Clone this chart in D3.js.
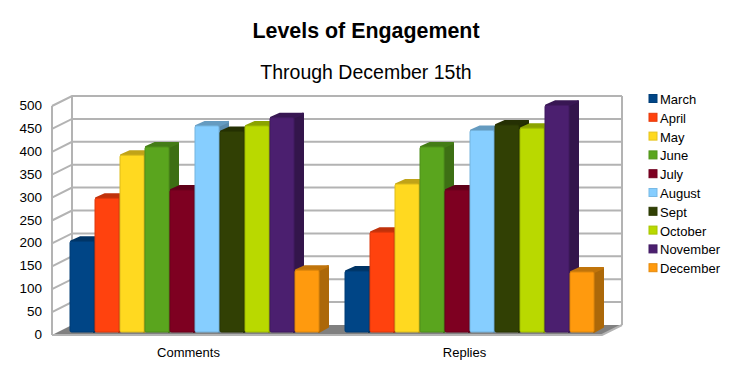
<!DOCTYPE html>
<html lang="en">
<head>
<meta charset="utf-8">
<title>Levels of Engagement</title>
<script src="https://cdn.jsdelivr.net/npm/d3@7"></script>
<style>
  html, body { margin: 0; padding: 0; background: #fff; }
  svg { display: block; }
  text { font-family: "Liberation Sans", Arial, sans-serif; fill: #000; }
</style>
</head>
<body>
<div id="chart-area"></div>
<script>
var categories = ["Comments", "Replies"];
var months = ["March", "April", "May", "June", "July", "August", "Sept", "October", "November", "December"];
var comments = [198, 292, 386, 404, 310, 450, 438, 450, 468, 135];
var replies = [133, 218, 323, 404, 310, 440, 452, 445, 495, 131];
var colors = ["#004586", "#ff420e", "#ffd920", "#5aa51e", "#7e0021", "#86ceff", "#314004", "#b9d900", "#4b1f6f", "#ff9a0e"];
var yTicks = [0, 50, 100, 150, 200, 250, 300, 350, 400, 450, 500];

var svg = d3.select("#chart-area").append("svg")
  .attr("width", 731)
  .attr("height", 367);

// front plane of the box, and how far the back wall is pushed away
var x0 = d3.scaleBand().domain(categories).range([52, 602]);
var x1 = d3.scaleBand().domain(months).range([0, 250]);
var y = d3.scaleLinear().domain([0, 500]).range([335, 106]);
var depth = { x: 20, y: -10 };
var barDepth = { x: 10, y: -5 };
var barOffset = { x: 5 + 12.5, y: -3 };

svg.append("text").attr("x", 366).attr("y", 38).attr("text-anchor", "middle")
  .style("font-size", "21.4px").style("font-weight", "bold").text("Levels of Engagement");
svg.append("text").attr("x", 366).attr("y", 79).attr("text-anchor", "middle")
  .style("font-size", "19.5px").text("Through December 15th");

// floor
svg.append("path")
  .attr("d", d3.line()([[52, y(0)], [52 + depth.x, y(0) + depth.y], [602 + depth.x, y(0) + depth.y], [602, y(0)]]))
  .attr("fill", "#808080");

// walls + gridlines
var gridColor = "#b3b3b3";
var grid = svg.append("g").attr("fill", "none").attr("stroke", gridColor).attr("stroke-width", 2);
yTicks.forEach(function(t) {
  if (t > 0) {
    grid.append("path").attr("d", d3.line()([
      [52, y(t)], [52 + depth.x, y(t) + depth.y], [602 + depth.x, y(t) + depth.y]
    ]));
  }
});
grid.append("path").attr("d", d3.line()([[52, y(0)], [52, y(500)]]));
grid.append("path").attr("d", d3.line()([[52 + depth.x, y(0) + depth.y], [52 + depth.x, y(500) + depth.y]]));
grid.append("path").attr("d", d3.line()([[602 + depth.x, y(0) + depth.y], [602 + depth.x, y(500) + depth.y]]));
grid.append("path").attr("d", d3.line()([[602 + depth.x, y(0) + depth.y], [602, y(0)], [52, y(0)]]));

// y labels
svg.append("g").selectAll("text").data(yTicks).enter().append("text")
  .attr("x", 42)
  .attr("y", function(d) { return y(d) + 4; })
  .attr("text-anchor", "end")
  .style("font-size", "13.5px")
  .text(function(d) { return d; });

// x labels
svg.append("g").selectAll("text").data(categories).enter().append("text")
  .attr("x", function(d, i) { return x0(d) + x0.bandwidth() / 2 - 1 + i; })
  .attr("y", 357)
  .attr("text-anchor", "middle")
  .style("font-size", "13px")
  .text(function(d) { return d; });

// bars, left to right so each covers the side of the one before
var seriesByCategory = { "Comments": comments, "Replies": replies };
var bars = svg.append("g");
categories.forEach(function(cat) {
  seriesByCategory[cat].forEach(function(v, i) {
    var left = x0(cat) + barOffset.x + x1(months[i]) + 0.5;
    var right = left + x1.bandwidth() - 1;
    var top = y(v) + barOffset.y;
    var bottom = y(0) + barOffset.y;
    var c = d3.color(colors[i]);
    var line = d3.line();
    var g = bars.append("g").attr("stroke-linejoin", "round").attr("stroke-width", 2);
    // side
    g.append("path")
      .attr("d", line([[right, top + 1], [right + barDepth.x - 1, top + barDepth.y + 1], [right + barDepth.x - 1, bottom + barDepth.y], [right, bottom]]) + "Z")
      .attr("fill", c.darker(1.1)).attr("stroke", c.darker(1.1));
    // top
    g.append("path")
      .attr("d", line([[left + 1, top], [left + barDepth.x, top + barDepth.y + 1], [right + barDepth.x - 1, top + barDepth.y + 1], [right, top]]) + "Z")
      .attr("fill", c.darker(0.8)).attr("stroke", c.darker(0.8));
    // front
    g.append("rect")
      .attr("x", left).attr("y", top)
      .attr("width", right - left).attr("height", bottom - top)
      .attr("rx", 1.5)
      .attr("fill", colors[i])
      .attr("stroke", c.darker(0.4))
      .attr("stroke-width", 1);
  });
});

// legend
var legend = svg.append("g").selectAll("g").data(months).enter().append("g")
  .attr("transform", function(d, i) { return "translate(649," + (93.5 + i * 18.8) + ")"; });
legend.append("rect")
  .attr("width", 8).attr("height", 8).attr("y", 1)
  .attr("fill", function(d, i) { return colors[i]; })
  .attr("stroke", function(d, i) { return d3.color(colors[i]).darker(0.3); });
legend.append("text")
  .attr("x", 11).attr("y", 10.5)
  .style("font-size", "13px")
  .text(function(d) { return d; });
</script>
</body>
</html>
